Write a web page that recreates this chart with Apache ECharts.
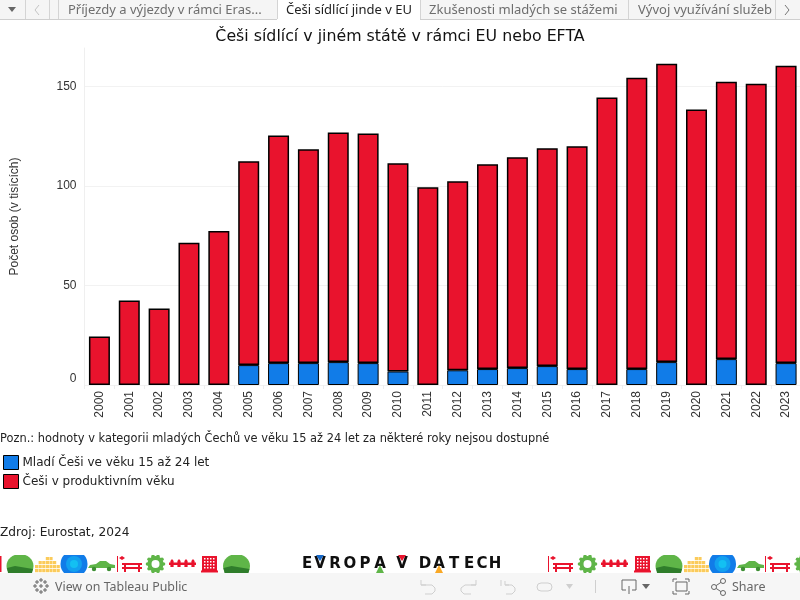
<!DOCTYPE html>
<html>
<head>
<meta charset="utf-8">
<title>Češi sídlící v jiném státě</title>
<script src="https://cdn.jsdelivr.net/npm/echarts@6/dist/echarts.min.js"></script>
<style>
  html, body { margin: 0; padding: 0; background: #fff; }
  #chart { width: 800px; height: 600px; }
</style>
</head>
<body>
<div id="chart"></div>
<script>
const years = ['2000', '2001', '2002', '2003', '2004', '2005', '2006', '2007', '2008', '2009', '2010', '2011',
  '2012', '2013', '2014', '2015', '2016', '2017', '2018', '2019', '2020', '2021', '2022', '2023']
// no value published for the young group in some years
const youngValues = [null, null, null, null, null, 10, 11, 11, 11.5, 11, 6.8, null,
  7.4, 8, 8.5, 9.5, 8, null, 8, 11.5, null, 13, null, 11]
const workingValues = [24.4, 42.4, 38.4, 71.4, 77.4, 102.4, 114.4, 107.4, 115.4, 115.4, 104.6, 99.4,
  95, 102.9, 105.9, 109.4, 111.9, 144.4, 146.4, 149.9, 138.4, 139.4, 151.4, 149.4]
const yTicks = [0, 50, 100, 150]
const seriesNames = ['Mladí Češi ve věku 15 až 24 let', 'Češi v produktivním věku']
const tabs = [
  { text: 'Příjezdy a výjezdy v rámci Eras...', x: 68 },
  { text: 'Češi sídlící jinde v EU', x: 286, active: true },
  { text: 'Zkušenosti mladých se stážemi', x: 429 },
  { text: 'Vývoj využívání služeb', x: 638 }
]

const BLUE = '#117ce8'
const RED = '#e9132d'
const GREEN = '#5fb548'
const YELLOW = '#fbcb5b'
const UI_FONT = '"Noto Sans", sans-serif'

function rect(x, y, w, h, fill, z) {
  return { type: 'rect', shape: { x, y, width: w, height: h }, style: { fill }, silent: true, z: z || 5 }
}
function line(x1, y1, x2, y2, stroke, lineWidth, z) {
  return { type: 'line', shape: { x1, y1, x2, y2 }, style: { stroke, lineWidth: lineWidth || 1 }, silent: true, z: z || 5 }
}
function poly(points, fill, z) {
  return { type: 'polygon', shape: { points }, style: { fill }, silent: true, z: z || 5 }
}
function path(points, stroke, lineWidth) {
  return { type: 'polyline', shape: { points }, style: { stroke, lineWidth: lineWidth || 1, fill: 'none' }, silent: true, z: 11 }
}
function circle(cx, cy, r, style, z) {
  return { type: 'circle', shape: { cx, cy, r }, style, silent: true, z: z || 5 }
}
function text(str, x, y, font, fill, extra) {
  return { type: 'text', x, y, silent: true, z: 11,
    style: Object.assign({ text: str, font, fill, textVerticalAlign: 'middle', textBaseline: 'middle' }, extra || {}) }
}

// top tab strip
function tabBar() {
  const out = [rect(0, 0, 800, 19, '#f5f5f5', 10), line(0, 19.5, 277, 19.5, '#cfcfcf', 1, 10), line(420, 19.5, 800, 19.5, '#cfcfcf', 1, 10)]
  out.push(rect(277, 0, 143, 20, '#ffffff', 10))
  ;[25, 49, 58, 277, 420, 628, 775].forEach(x => out.push(line(x + 0.5, 0, x + 0.5, 19, '#d4d4d4', 1, 10)))
  out.push(poly([[8, 7], [16, 7], [12, 12]], '#666666', 11))
  out.push(path([[39, 5], [35, 10], [39, 15]], '#c4c4c4'))
  out.push(path([[785, 5], [789, 10], [785, 15]], '#777777'))
  tabs.forEach(t => {
    out.push(text(t.text, t.x, 10, '13px ' + UI_FONT, t.active ? '#222222' : '#6e6e6e'))
  })
  return out
}

function hill(cx) {
  return [
    { type: 'ellipse', shape: { cx, cy: 566, rx: 13.5, ry: 12 }, style: { fill: GREEN }, silent: true, z: 5 },
    poly([[cx - 13, 568], [cx - 5, 566], [cx + 13, 569], [cx + 12, 573], [cx - 12, 573]], '#2f7d2b')
  ]
}
function dots(x) {
  const heights = [2, 3, 3, 4, 4, 3, 2]
  const out = []
  heights.forEach((h, i) => {
    for (let k = 0; k < h; k++) out.push(rect(x + i * 3.6, 569 - k * 4, 3.2, 3.2, YELLOW))
  })
  return out
}
function disc(cx) {
  return [
    circle(cx, 564, 13.5, { fill: BLUE }),
    circle(cx, 564, 8, { fill: '#12a0ef' }),
    circle(cx, 564, 4, { fill: '#13c0f2' })
  ]
}
function car(x) {
  return [
    poly([[x, 568], [x + 2, 565], [x + 8, 564], [x + 12, 561], [x + 18, 561], [x + 22, 564], [x + 27, 565], [x + 27, 568]], GREEN),
    circle(x + 6, 569, 2.2, { fill: '#3f8f35' }),
    circle(x + 21, 569, 2.2, { fill: '#3f8f35' })
  ]
}
function bench(x) {
  return [
    rect(x, 556, 1, 16, RED),
    poly([[x + 5, 556], [x + 8, 558], [x + 5, 560], [x + 2, 558]], RED),
    rect(x + 5, 563, 20, 2, RED),
    rect(x + 5, 567, 20, 2, RED),
    rect(x + 7, 565, 2, 7, RED),
    rect(x + 21, 565, 2, 7, RED)
  ]
}
function gear(cx) {
  const out = []
  for (let i = 0; i < 10; i++) {
    const a = i * Math.PI / 5
    out.push(circle(cx + Math.cos(a) * 8, 564 + Math.sin(a) * 8, 1.8, { fill: GREEN }))
  }
  out.push(circle(cx, 564, 6, { fill: 'none', stroke: GREEN, lineWidth: 4 }))
  return out
}
function fence(x) {
  const out = [rect(x, 562.5, 27, 2.5, RED)]
  ;[3, 10, 17, 24].forEach(d => out.push(poly([[x + d, 559], [x + d + 1.6, 561], [x + d + 1.6, 567], [x + d - 1.6, 567], [x + d - 1.6, 561]], RED)))
  return out
}
function building(x) {
  const out = [rect(x + 1, 556, 15, 15, RED), rect(x, 570.5, 17, 2, RED)]
  for (let r = 0; r < 4; r++) {
    for (let c = 0; c < 4; c++) out.push(rect(x + 3 + c * 3, 558 + r * 3, 1.5, 1.5, '#ffffff', 6))
  }
  return out
}

// the decorated strip with the logo
function footerStrip() {
  const letters = [['E', 307], ['V', 320], ['R', 335], ['O', 350], ['P', 365], ['A', 380], ['V', 402],
    ['D', 425], ['A', 439], ['T', 454], ['E', 469], ['C', 482], ['H', 495]]
  const out = [].concat(
    rect(0, 556, 1.5, 16, RED),
    hill(20), dots(35), disc(74), car(88), bench(117), gear(155.5), fence(169), building(201), hill(236.5),
    bench(548), gear(587.5), fence(601), building(634), hill(669), dots(684), disc(722.5), car(737), bench(765), gear(804),
    // icons are cut flat along the top
    rect(0, 540, 800, 15, '#ffffff', 7)
  )
  letters.forEach(l => out.push(text(l[0], l[1], 564.5, 'bold 15px "DejaVu Sans", sans-serif', '#0f0f0f', { textAlign: 'center', align: 'center' })))
  out.push(poly([[316, 555], [324, 555], [320, 561]], '#1668c8', 12))
  out.push(poly([[376, 573], [384, 573], [380, 565]], GREEN, 12))
  out.push(poly([[398, 555], [406, 555], [402, 561]], RED, 12))
  out.push(poly([[435, 573], [443, 573], [439, 565]], '#f9a825', 12))
  return out
}

// bottom toolbar
function toolbar() {
  const out = [rect(0, 573, 800, 27, '#f6f6f6', 10)]
  const g = '#cfcfcf'
  const d = '#666666'
  // tableau mark
  ;[[41, 580], [41, 592], [35, 586], [47, 586], [37, 582], [45, 582], [37, 590], [45, 590], [41, 586]].forEach(p => {
    out.push(line(p[0] - 2, p[1], p[0] + 2, p[1], d, 1, 11), line(p[0], p[1] - 2, p[0], p[1] + 2, d, 1, 11))
  })
  out.push(text('View on Tableau Public', 55, 587, '12.4px ' + UI_FONT, '#666666'))
  out.push(path([[421, 580], [421, 585], [426, 585]], g), path([[421, 585], [432, 585], [435, 588], [435, 591], [432, 594], [425, 594]], g))
  out.push(path([[476, 580], [476, 585], [471, 585]], g), path([[476, 585], [465, 585], [461, 588], [461, 591], [464, 594], [471, 594]], g))
  out.push(line(501, 580, 501, 586, g, 1, 11), path([[505, 581], [505, 585], [509, 585]], g), path([[505, 585], [512, 585], [515, 588], [515, 591], [512, 594], [506, 594]], g))
  out.push({ type: 'rect', shape: { x: 537, y: 583, width: 15, height: 8, r: 4 }, style: { fill: 'none', stroke: g }, silent: true, z: 11 })
  out.push(poly([[566, 584], [573, 584], [569.5, 589]], g, 11))
  out.push(line(595.5, 580, 595.5, 593, g, 1, 11))
  out.push(path([[626, 590], [622, 590], [622, 580], [636, 580], [636, 590], [632, 590]], d), line(629, 586, 629, 594, d, 1, 11))
  out.push(poly([[642, 584], [650, 584], [646, 589]], d, 11))
  out.push({ type: 'rect', shape: { x: 676, y: 582, width: 11, height: 9 }, style: { fill: 'none', stroke: d }, silent: true, z: 11 })
  out.push(path([[673, 582], [673, 579], [677, 579]], d), path([[685, 579], [689, 579], [689, 582]], d), path([[673, 591], [673, 594], [677, 594]], d), path([[685, 594], [689, 594], [689, 591]], d))
  out.push(line(714, 587, 723, 581, d, 1, 11), line(714, 587, 723, 593, d, 1, 11))
  ;[[714, 587], [723, 581], [723, 593]].forEach(p => out.push(circle(p[0], p[1], 2.5, { fill: '#f6f6f6', stroke: d }, 12)))
  out.push(text('Share', 732, 587, '12.5px ' + UI_FONT, '#666666'))
  return out
}

const chart = echarts.init(document.getElementById('chart'))

chart.setOption({
  animation: false,
  backgroundColor: '#ffffff',
  title: {
    text: 'Češi sídlící v jiném státě v rámci EU nebo EFTA',
    left: 400,
    top: 29,
    padding: 0,
    textAlign: 'center',
    textStyle: { fontFamily: 'DejaVu Sans', fontSize: 15.8, fontWeight: 'normal', color: '#111111' }
  },
  legend: {
    data: seriesNames,
    orient: 'vertical',
    left: 3,
    top: 455,
    padding: 0,
    itemWidth: 15,
    itemHeight: 14,
    itemGap: 4,
    icon: 'rect',
    selectedMode: false,
    itemStyle: { borderColor: '#000000', borderWidth: 1 },
    textStyle: { fontFamily: 'DejaVu Sans', fontSize: 12, color: '#222222', padding: [0, 0, 0, -1] }
  },
  grid: { left: 84.5, right: -1, top: 48, height: 337, outerBoundsMode: 'none' },
  xAxis: {
    type: 'category',
    data: years,
    axisLine: { show: false },
    axisTick: { show: true, length: 4, lineStyle: { color: '#eeeeee' } },
    axisLabel: { rotate: 90, margin: 6, interval: 0, fontFamily: 'Liberation Sans', fontSize: 12, color: '#333333' }
  },
  yAxis: {
    type: 'value',
    min: 0,
    max: 169.3,
    interval: 50,
    name: 'Počet osob (v tisících)',
    nameLocation: 'middle',
    nameGap: 63.5,
    nameTextStyle: { fontFamily: 'Liberation Sans', fontSize: 12, color: '#333333' },
    axisLine: { show: true, lineStyle: { color: '#efefef' } },
    axisTick: { show: false, customValues: yTicks },
    splitLine: { show: true, lineStyle: { color: '#f2f2f2' } },
    axisLabel: {
      margin: 8,
      fontFamily: 'Liberation Sans',
      fontSize: 12,
      color: '#333333',
      verticalAlignMinLabel: 'bottom',
      customValues: yTicks
    }
  },
  series: [
    {
      name: seriesNames[0],
      type: 'bar',
      stack: 'total',
      barWidth: 21,
      data: youngValues,
      itemStyle: { color: BLUE, borderColor: '#000000', borderWidth: 1 }
    },
    {
      name: seriesNames[1],
      type: 'bar',
      stack: 'total',
      barWidth: 21,
      data: workingValues,
      itemStyle: { color: RED, borderColor: '#000000', borderWidth: 1.5 }
    }
  ],
  graphic: [].concat(
    tabBar(),
    footerStrip(),
    toolbar(),
    text('Pozn.: hodnoty v kategorii mladých Čechů ve věku 15 až 24 let za některé roky nejsou dostupné', 0, 439, '11.4px "DejaVu Sans"', '#222222'),
    text('Zdroj: Eurostat, 2024', 0, 532.5, '12.2px "DejaVu Sans"', '#222222')
  )
})
</script>
</body>
</html>
